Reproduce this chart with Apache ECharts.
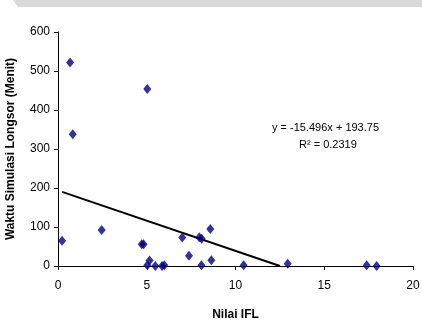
<!DOCTYPE html>
<html>
<head>
<meta charset="utf-8">
<script src="https://cdn.jsdelivr.net/npm/echarts@6/dist/echarts.min.js"></script>
<style>html,body{margin:0;padding:0;background:#fff}#c{width:422px;height:325px}</style>
</head>
<body>
<div id="c"></div>
<script>
var xValues = [0.23, 0.68, 0.83, 2.46, 4.72, 4.82, 5.03, 5.03, 5.16, 5.48, 5.86, 5.99, 7.0, 7.38, 7.96, 8.09, 8.08, 8.58, 8.64, 10.46, 12.94, 17.39, 17.95];
var yValues = [65, 522, 338, 92, 56, 56, 454, 2, 14, 0, 0, 2, 73, 26, 74, 70, 2, 95, 15, 2, 6, 2, 0];
var slope = -15.496;
var intercept = 193.75;
var r2 = 0.2319;
var xTicks = [0, 5, 10, 15, 20];
var yTicks = [0, 100, 200, 300, 400, 500, 600];

var points = xValues.map(function (x, i) { return [x, yValues[i]]; });
var xMin = Math.min.apply(null, xValues);
var xRoot = -intercept / slope;
var trend = [[xMin, slope * xMin + intercept], [xRoot, 0]];

var font = '"Liberation Sans", Arial, sans-serif';
var chart = echarts.init(document.getElementById('c'), null, {renderer: 'canvas'});
chart.setOption({
  animation: false,
  backgroundColor: '#fff',
  grid: {left: 58, right: 9, top: 32, bottom: 59, containLabel: false, outerBoundsMode: 'none'},
  xAxis: {
    type: 'value', min: xTicks[0], max: xTicks[xTicks.length - 1], interval: 5,
    name: 'Nilai IFL', nameLocation: 'middle', nameGap: 43,
    nameTextStyle: {fontFamily: font, fontSize: 12, fontWeight: 'bold', color: '#000'},
    axisLine: {lineStyle: {color: '#000', width: 1}},
    axisTick: {show: true, length: 4, lineStyle: {color: '#000'}},
    axisLabel: {fontFamily: font, fontSize: 12, color: '#000', margin: 14},
    splitLine: {show: false}
  },
  yAxis: {
    type: 'value', min: yTicks[0], max: yTicks[yTicks.length - 1], interval: 100,
    name: 'Waktu Simulasi Longsor (Menit)', nameLocation: 'middle', nameGap: 41, nameRotate: 90,
    nameTextStyle: {fontFamily: font, fontSize: 12, fontWeight: 'bold', color: '#000'},
    axisLine: {show: true, lineStyle: {color: '#000', width: 1}},
    axisTick: {show: true, length: 4, lineStyle: {color: '#000'}},
    axisLabel: {fontFamily: font, fontSize: 12, color: '#000', margin: 8},
    splitLine: {show: false}
  },
  series: [
    {
      type: 'line', data: trend, symbol: 'none', silent: true,
      lineStyle: {color: '#000', width: 2}, z: 1
    },
    {
      type: 'scatter', data: points, symbol: 'diamond', symbolSize: [8, 10],
      itemStyle: {color: '#000080'}, z: 2
    }
  ],
  graphic: [
    {type: 'polygon', shape: {points: [[13, 0], [422, 0], [422, 7], [18, 7]]}, style: {fill: '#d9d9d9'}, silent: true},
    {type: 'text', left: 272, top: 122, style: {text: 'y = -15.496x + 193.75', font: '11px ' + font, fill: '#000'}},
    {type: 'text', left: 299, top: 139, style: {text: 'R² = ' + r2, font: '11px ' + font, fill: '#000'}}
  ]
});
</script>
</body>
</html>
